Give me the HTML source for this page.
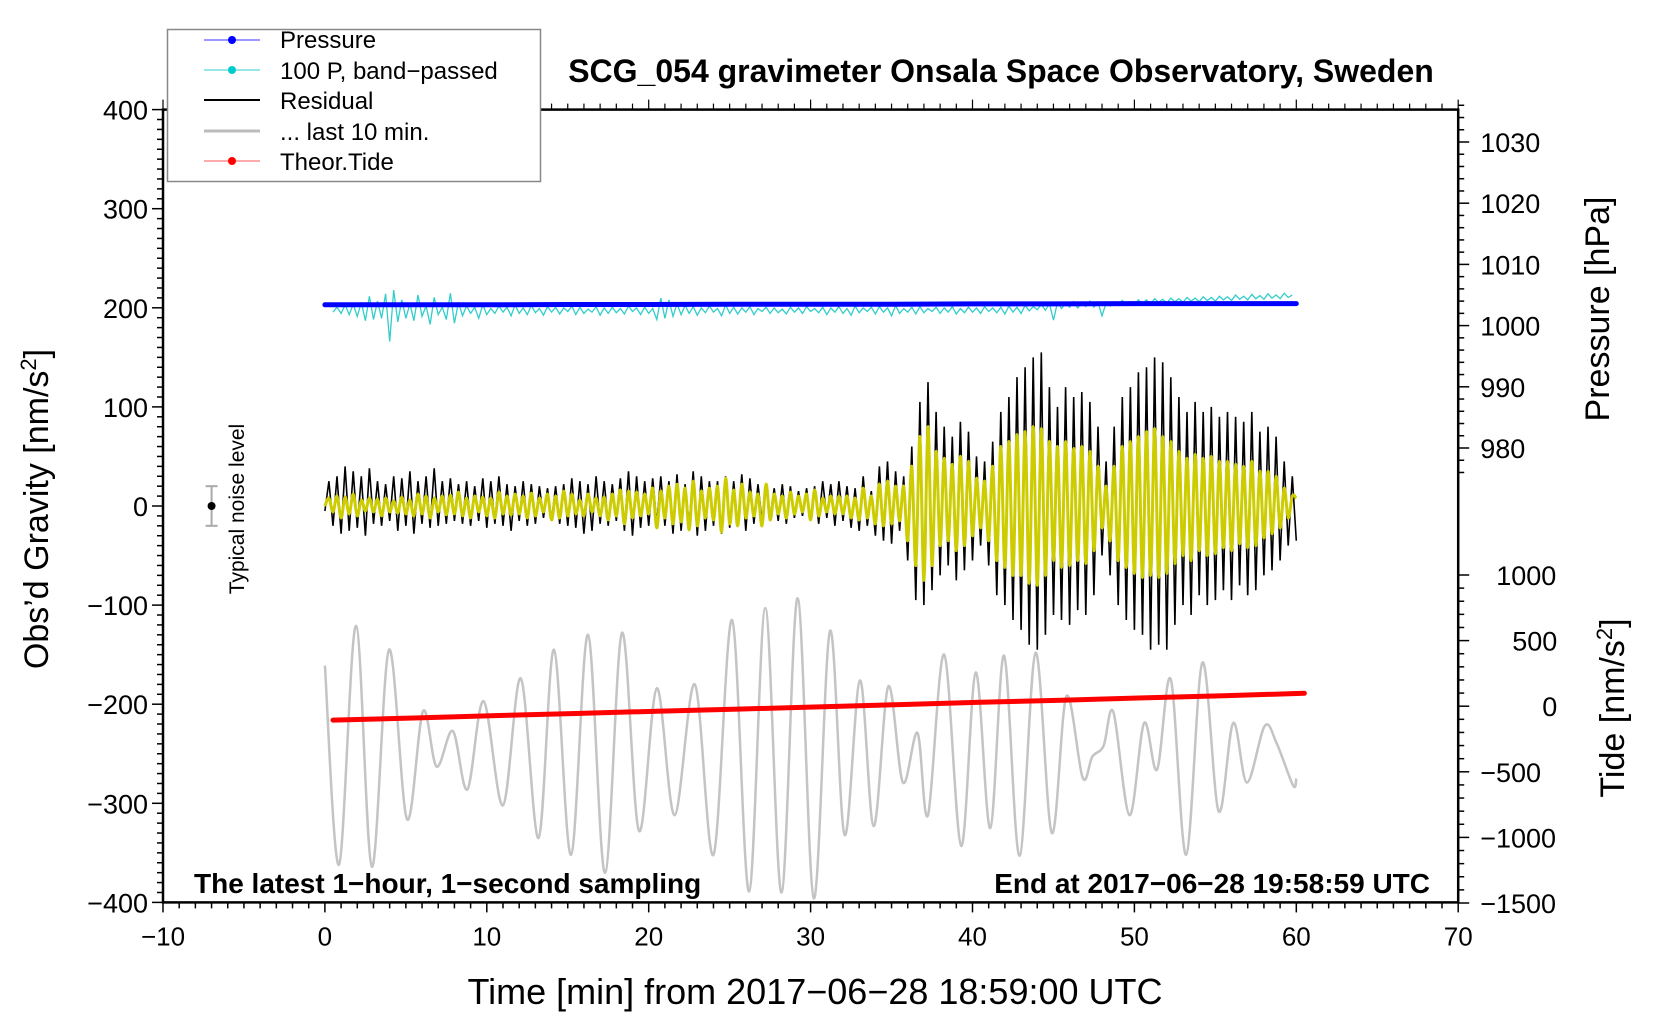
<!DOCTYPE html>
<html><head><meta charset="utf-8"><style>
html,body{margin:0;padding:0;background:#fff;}
svg{display:block;font-family:"Liberation Sans",sans-serif;}
</style></head><body>
<svg id="chart" width="1660" height="1020" viewBox="0 0 1660 1020">
<g id="series"></g>
<g id="axes"></g>
<text x="1001" y="82" font-size="32" font-weight="bold" text-anchor="middle">SCG_054 gravimeter Onsala Space Observatory, Sweden</text>
<text transform="translate(48,509) rotate(-90)" font-size="34" text-anchor="middle">Obs’d Gravity [nm/s<tspan font-size="22" dy="-12">2</tspan><tspan dy="12">]</tspan></text>
<text transform="translate(1609,309) rotate(-90)" font-size="34" text-anchor="middle">Pressure [hPa]</text>
<text transform="translate(1624,708) rotate(-90)" font-size="34" text-anchor="middle">Tide [nm/s<tspan font-size="22" dy="-12">2</tspan><tspan dy="12">]</tspan></text>
<text x="815" y="1004" font-size="36" text-anchor="middle">Time [min] from 2017−06−28 18:59:00 UTC</text>
<text x="194" y="893" font-size="28" font-weight="bold">The latest 1−hour, 1−second sampling</text>
<text x="1430" y="893" font-size="28" font-weight="bold" text-anchor="end">End at 2017−06−28 19:58:59 UTC</text>
<text transform="translate(244,509) rotate(-90)" font-size="21" text-anchor="middle">Typical noise level</text>
<g>
<rect x="167.5" y="29.5" width="373" height="152" fill="#fff" stroke="#888" stroke-width="1.5"/>
<g><line x1="204" y1="40" x2="260" y2="40" stroke="#33f" stroke-width="1"/><circle cx="232" cy="40" r="4" fill="#00f"/><text x="280" y="48" font-size="24">Pressure</text></g>
<g><line x1="204" y1="70" x2="260" y2="70" stroke="#3cc" stroke-width="1"/><circle cx="232" cy="70" r="4" fill="#0cc"/><text x="280" y="79" font-size="24">100 P, band−passed</text></g>
<g><line x1="204" y1="100" x2="260" y2="100" stroke="#000" stroke-width="2"/><text x="280" y="109" font-size="24">Residual</text></g>
<g><line x1="204" y1="131" x2="260" y2="131" stroke="#bbb" stroke-width="3"/><text x="280" y="140" font-size="24">... last 10 min.</text></g>
<g><line x1="204" y1="161" x2="260" y2="161" stroke="#f55" stroke-width="1"/><circle cx="232" cy="161" r="4" fill="#f00"/><text x="280" y="170" font-size="24">Theor.Tide</text></g>
</g>
</svg>
<script>
const grayTimes=[0,0.87,1.92,2.9,3.96,5.07,6.06,6.9,7.9,8.8,9.8,11.0,12.1,13.2,14.15,15.2,16.25,17.3,18.35,19.4,20.5,21.6,22.85,24.0,25.15,26.2,27.2,28.2,29.2,30.2,31.2,32.1,33.05,33.9,34.8,35.7,36.6,37.25,38.25,39.3,40.2,41.1,41.95,42.9,43.9,44.9,45.8,46.8,47.4,48.1,48.7,49.7,50.6,51.4,52.25,53.2,54.2,55.2,56.1,56.95,58.05,58.8,59.8,60.0];
const grayValues=[-161,-362,-121,-364,-145,-316,-207,-263,-227,-286,-197,-302,-174,-335,-145,-352,-130,-370,-128,-328,-184,-312,-180,-352,-115,-389,-103,-390,-93,-396,-126,-332,-176,-323,-182,-279,-229,-312,-150,-343,-168,-325,-151,-353,-148,-330,-192,-274,-253,-242,-208,-312,-219,-266,-175,-352,-158,-308,-219,-279,-222,-240,-282,-275];
const residualStep=0.25;
const residualValues=[-5,25,-20,30,-28,40,-25,35,-22,30,-30,38,-18,25,-20,22,-15,30,-25,28,-20,35,-28,25,-18,30,-22,38,-20,25,-18,28,
-15,22,-18,25,-20,20,-15,28,-22,25,-18,30,-20,22,-25,20,-15,25,-20,22,-18,20,-12,18,-15,20,-18,22,-20,28,-22,25,
-28,22,-25,30,-18,25,-20,22,-15,28,-25,35,-30,30,-22,25,-20,28,-18,30,-20,25,-28,32,-25,22,-20,35,-30,30,-25,25,
-20,25,-28,30,-22,25,-20,32,-25,28,-18,22,-15,20,-12,18,-15,22,-18,20,-12,15,-10,18,-15,20,-18,25,-12,22,-20,25,
-15,20,-22,18,-25,30,-20,15,-30,40,-35,45,-38,35,-25,30,
-55,60,-95,105,-100,125,-85,95,-70,80,-60,70,-75,85,-65,75,
-55,50,-40,45,-60,65,-90,95,-100,110,-115,130,-125,140,-140,150,
-145,155,-130,120,-110,100,-115,120,-120,110,-105,115,-110,105,-90,80,
-50,45,-70,80,-100,110,-115,120,-125,135,-130,140,-145,150,-140,145,
-145,130,-120,110,-100,95,-110,105,-90,95,-100,100,-95,90,-85,95,
-95,90,-80,85,-90,95,-85,75,-70,80,-65,70,-55,45,-40,30,-35];
const filteredValues=[0,8,-6,10,-12,9,-8,12,-10,6,-5,8,-6,7,-10,8,-6,5,-7,9,-8,6,-10,12,-8,10,-12,8,-6,10,-9,11,
-8,14,-10,8,-12,10,-6,9,-10,8,-12,14,-8,10,-9,12,-8,10,-12,13,-10,8,-6,12,-14,10,-12,15,-10,12,-8,6,
-10,12,-6,8,-10,9,-14,12,-10,16,-18,15,-12,14,-10,12,-8,18,-22,15,-12,20,-18,22,-16,18,-24,25,-20,15,-12,18,
-14,20,-26,28,-18,16,-20,22,-12,14,-10,12,-20,22,-14,12,-8,10,-12,14,-8,10,-6,12,-14,16,-10,8,-6,10,-8,10,
-8,10,-12,8,-14,18,-12,10,-18,22,-20,25,-18,20,-15,20,
-35,40,-60,70,-75,80,-60,55,-40,48,-35,42,-45,50,-40,45,
-30,28,-22,25,-35,40,-55,60,-62,65,-70,72,-70,75,-78,80,
-80,78,-70,65,-55,60,-62,65,-60,58,-55,60,-58,55,-45,40,
-22,20,-35,40,-55,60,-62,65,-68,70,-72,75,-70,78,-72,70,
-68,65,-58,55,-50,48,-55,52,-45,48,-50,50,-48,45,-42,45,
-45,42,-38,40,-42,45,-40,35,-32,35,-28,30,-22,18,-12,10,8];
const bandStart=0.5, bandStep=0.25;
const bandValues=[1002.2,1003.0,1002.0,1003.4,1001.8,1003.5,1001.5,1003.8,1000.8,1004.8,1001.0,1004.0,1001.2,1005.2,997.4,1005.8,1000.6,1004.2,1001.2,1003.6,1000.8,1005.0,1001.5,1003.2,1000.2,1004.6,1001.8,1003.0,1001.0,1005.3,1000.4,1003.8,1001.6,1003.2,1002.0,1003.0,1001.2,1003.4,1001.8,1002.8,
1002.0,1003.2,1002.2,1003.0,1001.6,1003.4,1002.0,1002.9,1001.8,1003.3,1002.1,1002.8,1001.7,1003.1,1002.2,1003.0,1001.9,1002.9,1002.3,1003.2,1001.8,1003.0,1002.0,1002.7,1002.2,1003.1,1001.7,1002.9,1002.0,1003.0,1002.1,1002.8,1001.9,1003.2,1002.3,1002.9,1001.8,1003.0,1002.0,1002.8,
1001.0,1004.5,1001.2,1004.2,1001.5,1003.6,1001.8,1003.3,1002.0,1003.1,1001.7,1002.9,1002.1,1003.2,1002.2,1002.8,1001.6,1003.4,1002.0,1003.0,1001.9,1002.9,1002.2,1003.1,1001.8,1002.8,1002.3,1003.0,1002.0,1002.9,1002.1,1002.7,1001.9,1003.0,1002.2,1002.9,1002.0,1003.1,1002.3,1002.8,
1002.1,1003.0,1001.8,1002.9,1002.2,1003.1,1002.0,1002.8,1001.7,1003.2,1002.1,1002.9,1002.3,1003.0,1001.9,1003.1,1002.2,1002.9,1001.6,1003.3,1002.0,1002.8,1002.2,1003.0,1001.9,1003.1,1002.1,1002.8,1002.3,1003.0,1002.0,1002.9,1002.2,1003.1,1001.9,1002.8,1002.1,1003.0,1002.2,1002.9,
1002.0,1003.1,1002.3,1002.9,1002.1,1003.0,1001.9,1003.2,1002.2,1003.0,1002.0,1003.3,1002.4,1003.1,1002.6,1003.5,1002.5,1003.6,1000.9,1003.8,1002.8,1003.6,1003.0,1003.9,1002.9,1003.7,1003.1,1004.0,1003.0,1003.8,1001.6,1003.7,1003.2,1003.9,1003.4,1004.1,1003.3,1003.9,1003.5,1004.2,
1003.6,1004.2,1003.5,1004.4,1003.8,1004.3,1003.7,1004.5,1003.9,1004.4,1003.8,1004.6,1004.0,1004.5,1003.9,1004.7,1004.1,1004.6,1004.0,1004.8,1004.2,1004.7,1004.1,1005.0,1004.3,1004.8,1004.2,1005.1,1004.4,1004.9,1004.3,1005.2,1004.5,1005.0,1004.4,1005.3,1004.6,1005.0];
const pressureTimes=[0,5,10,15,20,25,30,35,40,45,50,55,60];
const pressureValues=[1003.4,1003.4,1003.4,1003.45,1003.45,1003.5,1003.5,1003.5,1003.55,1003.55,1003.6,1003.6,1003.6];
const tideTimes=[0.5,5.5,10.5,15.5,20.5,25.5,30.5,35.5,40.5,45.5,50.5,55.5,60.5];
const tideValues=[-106,-90,-72,-56,-38,-22,-5,12,30,46,63,80,98];
const xTicks=[-10,0,10,20,30,40,50,60,70];
const gravityTicks=[400,300,200,100,0,-100,-200,-300,-400];
const pressureTicks=[1030,1020,1010,1000,990,980];
const tideTicks=[1000,500,0,-500,-1000,-1500];

const NS='http://www.w3.org/2000/svg';
const X=t=>163+(t+10)*16.19;
const YG=g=>506-g*0.991;
const YP=p=>142+(1030-p)*6.12;
const YT=v=>575+(1000-v)*(328/2500);
const S=document.getElementById('series'), A=document.getElementById('axes');
function mk(tag,attrs,parent){const e=document.createElementNS(NS,tag);for(const k in attrs)e.setAttribute(k,attrs[k]);parent.appendChild(e);return e;}
function poly(pts){return 'M'+pts.map(p=>p[0].toFixed(1)+','+p[1].toFixed(1)).join('L');}
function smooth(pts){let d='M'+pts[0][0].toFixed(1)+','+pts[0][1].toFixed(1);
for(let i=0;i<pts.length-1;i++){const p0=pts[Math.max(0,i-1)],p1=pts[i],p2=pts[i+1],p3=pts[Math.min(pts.length-1,i+2)];
const c1=[p1[0]+(p2[0]-p0[0])/6,p1[1]+(p2[1]-p0[1])/6],c2=[p2[0]-(p3[0]-p1[0])/6,p2[1]-(p3[1]-p1[1])/6];
d+='C'+c1[0].toFixed(1)+','+c1[1].toFixed(1)+' '+c2[0].toFixed(1)+','+c2[1].toFixed(1)+' '+p2[0].toFixed(1)+','+p2[1].toFixed(1);}return d;}

let e=mk('path',{d:smooth(grayTimes.map((t,i)=>[X(t),YG(grayValues[i])])),fill:'none',stroke:'#c4c4c4','stroke-width':2.5},S);


e=mk('path',{d:poly(tideTimes.map((t,i)=>[X(t),YT(tideValues[i])])),fill:'none',stroke:'#f00','stroke-width':5,'stroke-linecap':'round'},S);


e=mk('path',{d:poly(residualValues.map((v,i)=>[X(i*residualStep),YG(v)])),fill:'none',stroke:'#000','stroke-width':1.6},S);


e=mk('path',{d:smooth(filteredValues.map((v,i)=>[X(i*residualStep),YG(v)])),fill:'none',stroke:'#cccc00','stroke-width':3},S);


e=mk('path',{d:poly(bandValues.map((v,i)=>[X(bandStart+i*bandStep),YP(v)])),fill:'none',stroke:'#33cccc','stroke-width':1.3},S);


e=mk('path',{d:poly(pressureTimes.map((t,i)=>[X(t),YP(pressureValues[i])])),fill:'none',stroke:'#0000ff','stroke-width':5,'stroke-linecap':'round'},S);


e=mk('g',{},S);


mk('line',{x1:X(-7),x2:X(-7),y1:YG(20),y2:YG(-20),stroke:'#aaa','stroke-width':2},e);
mk('line',{x1:X(-7)-6,x2:X(-7)+6,y1:YG(20),y2:YG(20),stroke:'#aaa','stroke-width':2},e);
mk('line',{x1:X(-7)-6,x2:X(-7)+6,y1:YG(-20),y2:YG(-20),stroke:'#aaa','stroke-width':2},e);
mk('circle',{cx:X(-7),cy:YG(0),r:4,fill:'#000'},e);

const L=X(-10),R=X(70),T=YG(400),B=YG(-400);
e=mk('rect',{x:L,y:T,width:R-L,height:B-T,fill:'none',stroke:'#000','stroke-width':2.5},A);


for(let t=-10;t<=70;t++){const maj=t%10===0;const len=maj?10:6;
mk('line',{x1:X(t),x2:X(t),y1:B,y2:B+len,stroke:'#000','stroke-width':1.5},A);
mk('line',{x1:X(t),x2:X(t),y1:T,y2:T-len,stroke:'#000','stroke-width':1.2},A);}
xTicks.forEach(t=>{const el=mk('text',{x:X(t),y:B+43,'font-size':26,'text-anchor':'middle'},A);el.textContent=(t<0?'−':'')+Math.abs(t);

});
for(let g=-400;g<=400;g+=10){const len=g%100===0?11:6;mk('line',{x1:L,x2:L-len,y1:YG(g),y2:YG(g),stroke:'#000','stroke-width':1.5},A);}
gravityTicks.forEach(g=>{const el=mk('text',{x:L-15,y:YG(g)+10,'font-size':27,'text-anchor':'end'},A);el.textContent=(g<0?'−':'')+Math.abs(g);

});
for(let p=976;p<=1036;p+=2){const len=p%10===0?11:6;mk('line',{x1:R,x2:R+len,y1:YP(p),y2:YP(p),stroke:'#000','stroke-width':1.5},A);}
pressureTicks.forEach(p=>{const el=mk('text',{x:R+22,y:YP(p)+10,'font-size':27},A);el.textContent=p;

});
for(let v=-1500;v<=1000;v+=100){const len=v%500===0?11:6;mk('line',{x1:R,x2:R+len,y1:YT(v),y2:YT(v),stroke:'#000','stroke-width':1.5},A);}
tideTicks.forEach(v=>{const el=mk('text',{x:R+(v<0?22:38),y:YT(v)+10,'font-size':27},A);el.textContent=(v<0?'−':'')+Math.abs(v);
if(v===0)el.setAttribute('x',R+84);
if(v===500)el.setAttribute('x',R+54);

});
</script>
</body></html>
